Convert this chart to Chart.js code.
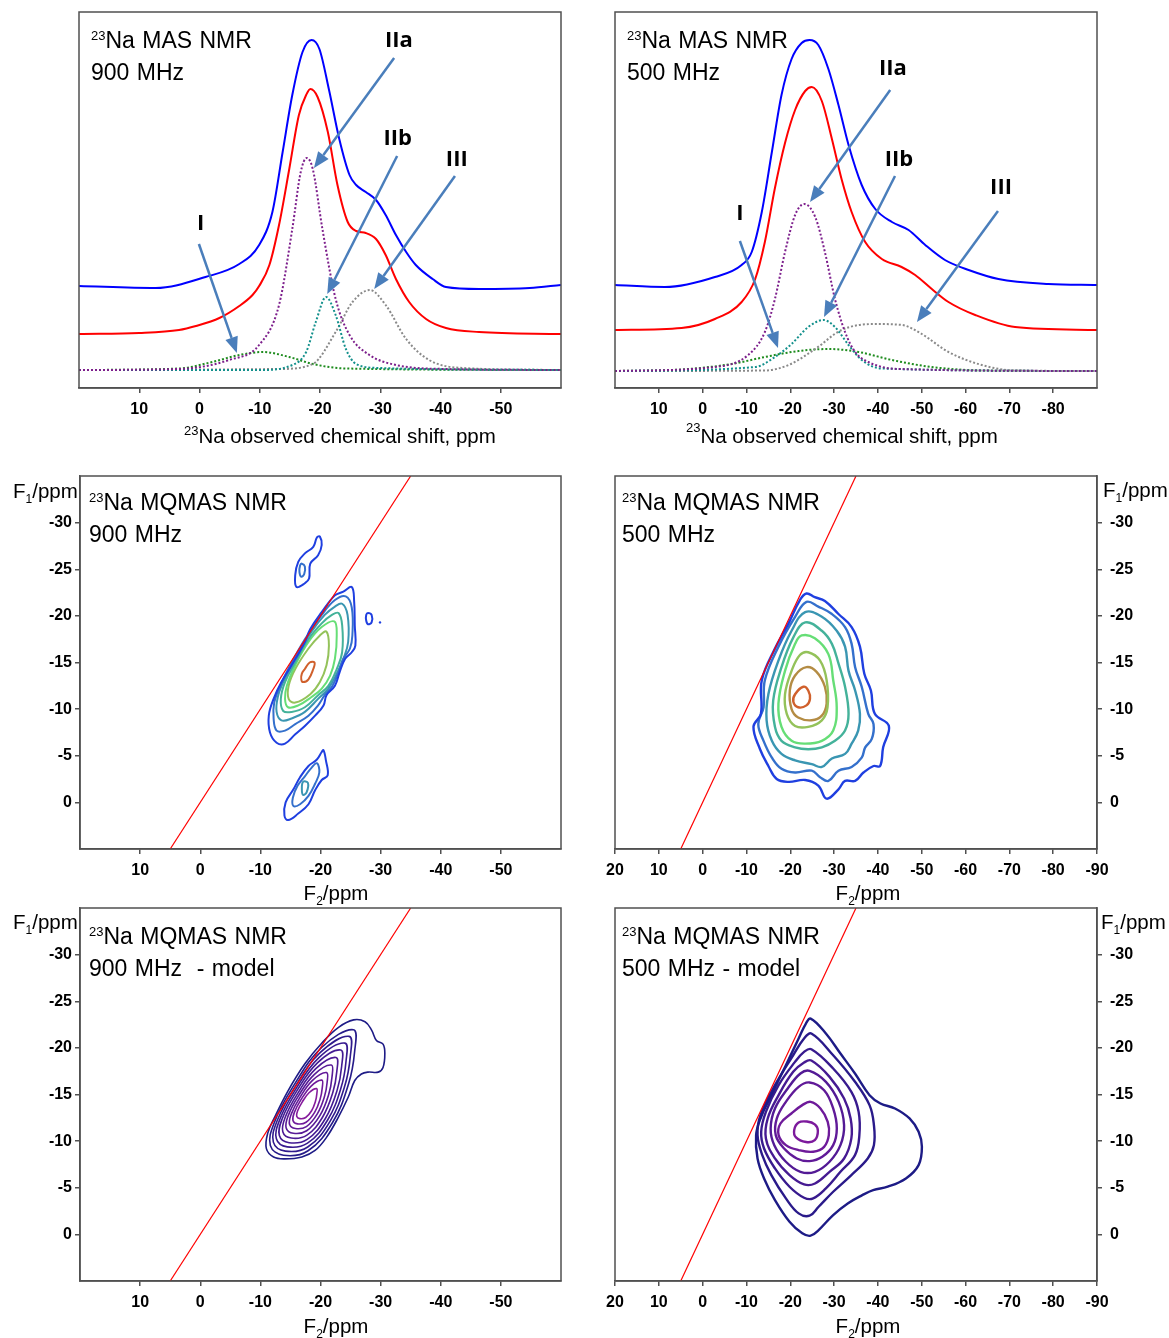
<!DOCTYPE html>
<html>
<head>
<meta charset="utf-8">
<script src="https://cdn.jsdelivr.net/npm/chart.js@4.4.1/dist/chart.umd.min.js"></script>
<style>
  body { margin: 0; background: #fff; width: 1169px; height: 1338px; position: relative; overflow: hidden;
         font-family: "Liberation Sans", Arial, sans-serif; }
  canvas { position: absolute; }
  .txt { position: absolute; color: #000; white-space: nowrap; z-index: 2; }
  .ttl { font-size: 23px; line-height: 29px; word-spacing: 1px; }
  .ax { font-size: 20.5px; line-height: 20px; }
  .sup { font-size: 13px; position: relative; top: -8px; }
  .sub { font-size: 12px; position: relative; top: 5px; }
</style>
</head>
<body>
<canvas id="mas900" width="585" height="455" style="left:0;top:0"></canvas>
<canvas id="mas500" width="584" height="455" style="left:585px;top:0"></canvas>
<canvas id="mq900" width="585" height="450" style="left:0;top:460px"></canvas>
<canvas id="mq500" width="584" height="450" style="left:585px;top:460px"></canvas>
<canvas id="model900" width="585" height="443" style="left:0;top:895px"></canvas>
<canvas id="model500" width="584" height="443" style="left:585px;top:895px"></canvas>

<!-- panel titles -->
<div class="txt ttl" style="left:91px;top:26px"><span class="sup">23</span>Na MAS NMR<br>900 MHz</div>
<div class="txt ttl" style="left:627px;top:26px"><span class="sup">23</span>Na MAS NMR<br>500 MHz</div>
<div class="txt ttl" style="left:89px;top:488px"><span class="sup">23</span>Na MQMAS NMR<br>900 MHz</div>
<div class="txt ttl" style="left:622px;top:488px"><span class="sup">23</span>Na MQMAS NMR<br>500 MHz</div>
<div class="txt ttl" style="left:89px;top:922px"><span class="sup">23</span>Na MQMAS NMR<br>900 MHz&nbsp; - model</div>
<div class="txt ttl" style="left:622px;top:922px"><span class="sup">23</span>Na MQMAS NMR<br>500 MHz - model</div>

<!-- axis titles -->
<div class="txt ax" style="left:184px;top:426px"><span class="sup">23</span>Na observed chemical shift, ppm</div>
<div class="txt ax" style="left:686px;top:426px"><span class="sup" style="top:-11px">23</span>Na observed chemical shift, ppm</div>
<div class="txt ax" style="left:236px;width:200px;text-align:center;top:883px">F<span class="sub">2</span>/ppm</div>
<div class="txt ax" style="left:768px;width:200px;text-align:center;top:883px">F<span class="sub">2</span>/ppm</div>
<div class="txt ax" style="left:236px;width:200px;text-align:center;top:1316px">F<span class="sub">2</span>/ppm</div>
<div class="txt ax" style="left:768px;width:200px;text-align:center;top:1316px">F<span class="sub">2</span>/ppm</div>
<div class="txt ax" style="left:13px;top:481px">F<span class="sub">1</span>/ppm</div>
<div class="txt ax" style="left:1103px;top:480px">F<span class="sub">1</span>/ppm</div>
<div class="txt ax" style="left:13px;top:912px">F<span class="sub">1</span>/ppm</div>
<div class="txt ax" style="left:1101px;top:912px">F<span class="sub">1</span>/ppm</div>

<script>
// ---------- tick labels ----------
const ticks900 = [10, 0, -10, -20, -30, -40, -50];
const ticks500Top = [10, 0, -10, -20, -30, -40, -50, -60, -70, -80];
const ticks500 = [20, 10, 0, -10, -20, -30, -40, -50, -60, -70, -80, -90];
const ticksF1 = [-30, -25, -20, -15, -10, -5, 0];

// ---------- 1D MAS spectra, 900 MHz (ppm / intensity a.u.) ----------
const mas900BluePpm = [20, 7.3, -1.0, -6.6, -9.9, -12.1, -13.8, -15.4, -17.1, -18.6, -19.9, -21.5, -23.2, -24.9, -26.0, -27.6, -29.3, -30.9, -32.6, -34.3, -35.9, -38.7, -40.9, -46.4, -54.8, -60];
const mas900BlueInt = [102, 100, 111, 124, 143, 176, 236, 293, 336, 348, 339, 298, 249, 213, 203, 196, 188, 173, 153, 136, 123, 109, 101, 99, 100, 103];
const mas900RedPpm = [20, 10, 3.4, 0.6, -3.3, -6.6, -8.8, -9.9, -11.6, -13.2, -14.9, -16.5, -17.7, -18.4, -19.6, -21.3, -22.9, -24.6, -26.0, -27.6, -29.3, -30.9, -32.6, -34.8, -37.6, -40.9, -46.4, -60];
const mas900RedInt = [54, 55, 58, 62, 70, 82, 93, 102, 123, 163, 219, 273, 293, 299, 291, 256, 203, 166, 157, 155, 149, 133, 109, 86, 69, 60, 56, 54];
const mas900IIaPpm = [20, 3.4, -4.9, -9.9, -13.2, -15.4, -16.8, -17.8, -18.8, -20.4, -22.6, -24.9, -28.2, -32.6, -40.9, -60];
const mas900IIaInt = [18, 19, 28, 43, 83, 159, 216, 230, 219, 159, 89, 53, 33, 23, 19, 18];
const mas900IIbPpm = [20, -10, -15.4, -17.7, -19.3, -21.0, -22.6, -24.3, -26.0, -29.8, -60];
const mas900IIbInt = [18, 18, 23, 36, 66, 91, 73, 39, 24, 20, 18];
const mas900IIIPpm = [20, -13.2, -18.8, -22.6, -25.4, -28.3, -30.9, -34.3, -38.1, -43.7, -60];
const mas900IIIInt = [18, 19, 24, 56, 86, 98, 83, 49, 28, 20, 18];
const mas900IPpm = [20, 3.4, -2.1, -6.6, -10.5, -14.9, -18.8, -24.3, -60];
const mas900IInt = [18, 19.5, 26, 33, 36, 31, 24, 19.5, 18];

// ---------- 1D MAS spectra, 500 MHz ----------
const mas500BluePpm = [20, 8.6, -2.8, -8.9, -11.2, -13.5, -15.8, -18.0, -20.3, -22.6, -24.4, -26.4, -28.7, -31.0, -33.3, -36.3, -39.4, -43.2, -47.0, -50.8, -55.3, -60.7, -67.5, -78.9, -90];
const mas500BlueInt = [103, 101, 111, 123, 136, 176, 236, 293, 329, 345, 348, 343, 319, 283, 243, 203, 179, 166, 158, 143, 128, 118, 109, 104, 103];
const mas500RedPpm = [20, 4.8, -2.8, -8.9, -12.0, -14.2, -16.5, -18.8, -21.1, -23.4, -24.9, -27.2, -29.5, -31.7, -34.0, -37.1, -40.9, -45.4, -48.5, -52.3, -56.1, -62.2, -71.3, -90];
const mas500RedInt = [58, 60, 69, 86, 109, 146, 200, 245, 278, 297, 301, 287, 249, 209, 176, 146, 129, 121, 113, 99, 86, 73, 61, 58];
const mas500IIaPpm = [20, -2.8, -10.4, -14.2, -16.5, -18.8, -21.1, -23.2, -25.7, -27.9, -30.2, -32.5, -34.8, -37.8, -44.7, -90];
const mas500IIaInt = [17, 21, 33, 56, 89, 136, 173, 184, 171, 136, 89, 56, 36, 26, 19, 17];
const mas500IIbPpm = [20, -12, -16.5, -20.3, -24.1, -27.6, -30.2, -33.3, -36.3, -40.9, -90];
const mas500IIbInt = [17, 21, 31, 44, 61, 68, 61, 43, 28, 19.5, 17];
const mas500IIIPpm = [20, -14.2, -19.6, -25.7, -31.7, -39.4, -45.5, -50.0, -56.1, -63.7, -71.3, -90];
const mas500IIIInt = [17, 17.5, 23, 39, 58, 64, 63, 54, 36, 23, 17.5, 17];
const mas500IPpm = [20, 4.8, -6.6, -14.2, -21.9, -28.7, -35.6, -43.2, -52.3, -63.7, -90];
const mas500IInt = [17, 18.5, 24, 31, 37, 39, 36, 28, 21, 17.5, 17];

// arrow annotations (from -> to, label anchor), in ppm / intensity
const arrows900 = [
  { label: 'IIa', from: [-32.3, 330], to: [-19.0, 220], at: [-33.1, 347] },
  { label: 'IIb', from: [-32.8, 232], to: [-21.2, 94], at: [-32.9, 249] },
  { label: 'III', from: [-42.4, 212], to: [-29.0, 99], at: [-42.7, 228] },
  { label: 'I', from: [0.1, 144], to: [-6.2, 35], at: [-0.2, 164] }
];
const arrows500 = [
  { label: 'IIa', from: [-42.8, 298], to: [-24.5, 186], at: [-43.4, 319] },
  { label: 'IIb', from: [-43.9, 212], to: [-27.7, 71], at: [-44.8, 228] },
  { label: 'III', from: [-67.4, 177], to: [-48.9, 66], at: [-68.1, 200] },
  { label: 'I', from: [-8.5, 147], to: [-17.2, 40], at: [-8.5, 174] }
];

// F1 = F2 diagonal
const diagonal = [[5, 5], [-35, -35]];

// ---------- MQMAS 900 MHz contours [F2, F1] (outer -> inner) ----------
const mq900c1 = [[-25.2,-23.1],[-25.6,-21.5],[-25.7,-19.0],[-25.8,-16.8],[-25.2,-16.1],[-24.1,-15.4],[-23.2,-14.0],[-22.4,-12.5],[-21.0,-11.5],[-20.5,-10.4],[-19.1,-9.3],[-17.4,-8.2],[-15.8,-7.3],[-14.1,-6.3],[-12.7,-6.4],[-11.6,-7.5],[-11.4,-9.3],[-12.2,-11.1],[-13.5,-12.9],[-15.2,-14.7],[-17.4,-17.2],[-18.3,-18.6],[-20.2,-20.4],[-22.4,-22.2],[-23.8,-22.6]];
const mq900c2 = [[-24.2,-22.1],[-25.2,-20.9],[-25.3,-17.9],[-24.9,-16.5],[-23.8,-15.4],[-23.0,-14.0],[-22.0,-12.5],[-20.7,-11.5],[-19.6,-10.4],[-18.0,-9.3],[-15.8,-8.4],[-14.1,-7.7],[-12.7,-7.7],[-12.2,-9.0],[-12.3,-10.7],[-13.3,-12.5],[-15.2,-15.0],[-17.4,-17.5],[-20.2,-20.1],[-22.4,-21.7]];
const mq900c3 = [[-23.6,-21.3],[-24.5,-20.1],[-24.6,-17.2],[-23.8,-15.4],[-22.7,-13.8],[-21.3,-12.2],[-19.6,-11.1],[-17.4,-9.7],[-15.2,-9.0],[-13.5,-8.8],[-12.7,-9.7],[-12.9,-11.3],[-13.8,-12.9],[-15.8,-15.4],[-18.5,-18.3],[-20.7,-20.1],[-22.4,-21.0]];
const mq900c4 = [[-23.0,-20.3],[-23.6,-19.0],[-23.6,-16.1],[-22.7,-14.3],[-21.3,-12.5],[-19.6,-11.5],[-17.4,-10.2],[-15.2,-9.7],[-13.8,-9.8],[-13.4,-11.1],[-14.1,-12.9],[-15.8,-15.0],[-18.0,-17.5],[-20.2,-19.2],[-21.9,-20.1]];
const mq900c5 = [[-22.3,-19.4],[-22.7,-17.9],[-22.4,-15.4],[-21.6,-13.6],[-20.2,-12.2],[-18.5,-11.3],[-16.3,-10.4],[-14.6,-10.2],[-14.1,-11.1],[-14.4,-12.5],[-15.8,-14.7],[-18.0,-17.2],[-20.2,-18.8]];
const mq900c6 = [[-21.0,-18.3],[-21.4,-16.8],[-21.0,-14.7],[-19.9,-12.9],[-18.3,-11.6],[-15.8,-10.7],[-14.7,-11.1],[-14.7,-12.5],[-15.8,-14.3],[-18.0,-16.5],[-19.9,-17.9]];
const mq900c7 = [[-17.4,-14.3],[-18.2,-15.0],[-19.0,-15.0],[-18.8,-14.3],[-18.0,-13.2],[-17.1,-12.9],[-16.8,-13.2],[-16.9,-13.8]];
const mq900Top1 = [[-19.9,-28.5],[-20.2,-27.6],[-19.6,-26.5],[-18.3,-25.6],[-18.1,-24.0],[-17.4,-23.5],[-16.0,-23.1],[-15.8,-24.4],[-16.3,-25.8],[-17.4,-26.7],[-18.8,-27.4],[-19.4,-28.4]];
const mq900Top2 = [[-16.9,-25.6],[-17.4,-25.3],[-17.3,-24.5],[-16.8,-24.2],[-16.5,-24.7],[-16.6,-25.4]];
const mq900Low1 = [[-20.5,-5.6],[-20.9,-4.5],[-21.2,-2.9],[-20.2,-2.4],[-19.1,-1.3],[-18.0,0.2],[-16.3,1.2],[-14.6,1.9],[-14.0,1.4],[-14.2,0.0],[-15.5,-1.4],[-16.6,-2.7],[-18.0,-3.9],[-19.4,-4.6],[-20.2,-5.4]];
const mq900Low2 = [[-19.4,-4.2],[-19.8,-3.2],[-19.1,-2.0],[-18.0,-0.7],[-16.6,0.2],[-15.5,0.4],[-15.4,-0.5],[-16.2,-1.8],[-17.4,-2.8],[-18.5,-3.7]];
const mq900Low3 = [[-17.1,-2.2],[-17.9,-2.1],[-17.7,-1.1],[-17.1,-0.8],[-16.9,-1.4]];
const mq900Side = [[-27.9,-20.3],[-28.5,-20.1],[-28.5,-19.3],[-27.9,-19.1],[-27.6,-19.5],[-27.6,-20.1]];
const mq900Dot = [[-29.9,-19.3]];

// ---------- MQMAS 500 MHz contours ----------
const mq500c1 = [[-23.7,-22.4],[-25.6,-22.0],[-27.9,-21.6],[-31.0,-20.2],[-34.0,-18.8],[-35.9,-16.7],[-36.9,-13.8],[-38.4,-12.0],[-39.3,-9.5],[-42.5,-8.2],[-41.2,-5.9],[-40.5,-3.9],[-39.0,-3.9],[-36.7,-3.2],[-34.8,-2.3],[-32.5,-2.3],[-31.0,-1.4],[-28.3,-0.4],[-26.4,-1.8],[-23.4,-2.4],[-19.6,-2.2],[-16.9,-2.5],[-15.0,-3.9],[-13.1,-5.7],[-11.6,-8.1],[-13.3,-9.5],[-13.5,-13.1],[-16.5,-16.5],[-19.6,-19.2],[-22.2,-21.7]];
const mq500c2 = [[-23.7,-21.5],[-26.4,-21.0],[-29.5,-20.2],[-32.5,-18.8],[-34.0,-17.0],[-34.8,-14.5],[-36.3,-12.4],[-37.8,-9.5],[-39.0,-8.4],[-38.6,-6.8],[-37.1,-5.9],[-36.3,-4.8],[-34.0,-3.8],[-31.0,-3.4],[-28.7,-2.3],[-26.8,-2.7],[-24.9,-3.4],[-21.1,-3.2],[-18.0,-3.6],[-15.8,-4.8],[-13.9,-6.6],[-12.7,-8.4],[-13.9,-10.2],[-14.2,-13.1],[-17.3,-16.7],[-21.1,-19.9]];
const mq500c3 = [[-23.4,-20.4],[-27.2,-19.9],[-30.6,-18.4],[-32.5,-16.7],[-33.3,-14.1],[-34.8,-12.0],[-35.9,-9.5],[-35.5,-7.7],[-34.0,-6.3],[-32.5,-5.2],[-29.5,-4.7],[-27.2,-3.8],[-24.9,-4.1],[-21.1,-4.5],[-18.0,-5.2],[-15.8,-6.6],[-14.6,-8.8],[-15.0,-11.6],[-17.3,-15.2],[-20.3,-18.4]];
const mq500c4 = [[-23.4,-19.3],[-27.2,-18.4],[-29.5,-17.0],[-31.0,-14.9],[-32.5,-12.4],[-33.3,-9.5],[-32.5,-7.7],[-30.2,-6.6],[-27.2,-5.9],[-24.1,-5.7],[-21.1,-5.9],[-18.0,-6.6],[-16.5,-8.1],[-16.1,-10.9],[-18.0,-14.5],[-20.7,-17.7]];
const mq500c5 = [[-22.6,-17.9],[-25.6,-17.6],[-28.7,-15.9],[-29.8,-13.1],[-30.6,-10.2],[-29.8,-7.7],[-27.2,-6.6],[-23.4,-6.3],[-20.3,-6.6],[-18.0,-8.1],[-17.3,-10.6],[-18.8,-14.1],[-21.1,-17.0]];
const mq500c6 = [[-24.1,-16.1],[-26.8,-15.2],[-28.3,-13.1],[-28.5,-10.2],[-27.2,-8.8],[-24.1,-8.1],[-21.1,-8.2],[-19.2,-9.5],[-18.8,-11.6],[-20.3,-14.1],[-22.2,-15.8]];
const mq500c7 = [[-23.7,-14.5],[-26.0,-14.0],[-27.9,-12.4],[-28.3,-10.6],[-27.2,-9.3],[-24.9,-8.8],[-21.8,-9.1],[-20.3,-10.0],[-19.9,-12.0],[-21.1,-13.6]];
const mq500c8 = [[-23.0,-12.4],[-24.1,-12.0],[-24.5,-11.1],[-23.7,-10.4],[-21.8,-10.2],[-20.7,-10.8],[-21.1,-11.6]];

// ---------- model 900 MHz contours ----------
const model900c1 = [[-25.5,-23.0],[-27.4,-22.8],[-28.5,-21.9],[-29.3,-20.8],[-30.4,-20.4],[-30.7,-19.4],[-30.4,-17.9],[-29.6,-17.4],[-27.9,-17.4],[-26.8,-17.2],[-25.7,-16.5],[-24.6,-14.7],[-23.0,-12.6],[-21.0,-10.4],[-19.1,-9.0],[-16.9,-8.3],[-14.1,-8.1],[-12.2,-8.3],[-11.0,-9.2],[-11.2,-10.8],[-12.4,-12.6],[-14.6,-15.4],[-17.4,-18.3],[-20.2,-20.5],[-23.0,-22.2]];
const model900c2 = [[-25.47,-21.95],[-25.67,-19.57],[-24.66,-16.12],[-22.01,-12.00],[-17.93,-8.97],[-13.85,-8.48],[-11.66,-9.53],[-12.32,-12.00],[-15.38,-15.79],[-20.23,-20.07]];
const model900c3 = [[-24.77,-21.23],[-24.95,-19.06],[-24.03,-15.90],[-21.61,-12.15],[-17.88,-9.37],[-14.16,-8.93],[-12.16,-9.89],[-12.77,-12.15],[-15.56,-15.61],[-19.98,-19.51]];
const model900c4 = [[-24.07,-20.51],[-24.24,-18.54],[-23.40,-15.69],[-21.21,-12.29],[-17.84,-9.78],[-14.47,-9.38],[-12.66,-10.25],[-13.21,-12.29],[-15.73,-15.42],[-19.74,-18.95]];
const model900c5 = [[-23.37,-19.78],[-23.52,-18.03],[-22.77,-15.47],[-20.81,-12.43],[-17.79,-10.19],[-14.78,-9.83],[-13.16,-10.60],[-13.65,-12.43],[-15.91,-15.23],[-19.49,-18.40]];
const model900c6 = [[-22.58,-18.97],[-22.71,-17.45],[-22.06,-15.23],[-20.36,-12.59],[-17.74,-10.65],[-15.13,-10.33],[-13.73,-11.01],[-14.15,-12.59],[-16.11,-15.02],[-19.22,-17.77]];
const model900c7 = [[-21.80,-18.16],[-21.91,-16.87],[-21.36,-14.99],[-19.92,-12.76],[-17.70,-11.11],[-15.48,-10.84],[-14.29,-11.41],[-14.65,-12.76],[-16.31,-14.82],[-18.95,-17.14]];
const model900c8 = [[-21.01,-17.35],[-21.10,-16.29],[-20.65,-14.75],[-19.47,-12.92],[-17.65,-11.56],[-15.83,-11.35],[-14.85,-11.81],[-15.15,-12.92],[-16.51,-14.61],[-18.67,-16.51]];
const model900c9 = [[-20.22,-16.54],[-20.29,-15.71],[-19.94,-14.51],[-19.02,-13.08],[-17.60,-12.02],[-16.18,-11.85],[-15.42,-12.22],[-15.65,-13.08],[-16.71,-14.40],[-18.40,-15.88]];
const model900c10 = [[-19.35,-15.63],[-19.39,-15.07],[-19.15,-14.24],[-18.52,-13.26],[-17.54,-12.53],[-16.57,-12.41],[-16.04,-12.66],[-16.20,-13.26],[-16.93,-14.16],[-18.09,-15.19]];

// ---------- model 500 MHz contours ----------
const model500c1 = [[-24.65,-23.14],[-28.13,-21.54],[-31.45,-19.39],[-34.77,-17.25],[-38.09,-14.93],[-40.58,-14.04],[-43.90,-13.50],[-47.22,-12.43],[-49.29,-11.0],[-50.04,-9.39],[-49.29,-7.43],[-46.39,-6.0],[-42.24,-5.11],[-38.92,-4.75],[-36.43,-4.21],[-33.11,-3.32],[-29.79,-2.07],[-26.47,-0.46],[-24.65,0.14],[-22.74,-0.11],[-19.83,-1.36],[-16.51,-3.68],[-14.02,-6.0],[-12.53,-8.14],[-12.20,-10.64],[-13.20,-12.43],[-15.68,-14.93],[-19.00,-18.14],[-21.91,-21.0],[-23.57,-22.61]];
const model500c2 = [[-24.81,-21.54],[-29.79,-19.21],[-34.77,-16.36],[-38.09,-13.86],[-39.09,-11.71],[-39.09,-9.57],[-37.68,-8.14],[-33.94,-6.36],[-29.79,-4.57],[-26.47,-2.96],[-24.40,-2.0],[-21.91,-2.25],[-19.0,-3.86],[-15.68,-6.36],[-13.61,-8.5],[-12.53,-10.64],[-13.20,-12.79],[-16.51,-16.0],[-20.66,-19.21],[-23.15,-21.0]];
const model500c3 = [[-24.81,-19.86],[-29.79,-17.79],[-33.94,-15.29],[-35.60,-13.14],[-35.77,-10.64],[-34.77,-8.5],[-31.45,-6.71],[-28.13,-4.93],[-25.23,-3.86],[-23.15,-3.93],[-19.83,-5.11],[-16.51,-7.07],[-14.02,-9.21],[-13.36,-11.0],[-14.44,-13.14],[-17.34,-16.0],[-21.08,-18.5],[-23.15,-19.57]];
const model500c4 = [[-24.81,-18.64],[-28.96,-16.89],[-32.28,-14.57],[-33.77,-12.43],[-33.94,-10.29],[-32.28,-8.14],[-28.96,-6.71],[-25.64,-5.46],[-23.15,-5.36],[-19.83,-6.36],[-16.51,-8.14],[-14.44,-10.29],[-14.85,-12.43],[-17.34,-14.93],[-20.66,-17.43],[-23.15,-18.43]];
const model500c5 = [[-24.40,-17.54],[-28.13,-16.36],[-31.04,-14.21],[-32.28,-11.71],[-31.45,-9.57],[-28.96,-7.79],[-25.64,-6.71],[-22.32,-6.71],[-19.0,-7.79],[-16.35,-9.57],[-15.52,-11.36],[-16.51,-13.5],[-19.42,-15.64],[-22.32,-17.25]];
const model500c6 = [[-24.40,-16.29],[-27.72,-15.46],[-29.79,-13.5],[-30.62,-11.36],[-29.79,-9.57],[-27.30,-8.32],[-24.40,-7.86],[-21.49,-8.14],[-18.59,-9.21],[-16.68,-10.64],[-16.93,-12.43],[-19.0,-14.21],[-21.91,-15.82]];
const model500c7 = [[-24.65,-14.21],[-26.89,-13.5],[-28.55,-12.07],[-28.80,-10.64],[-27.72,-9.39],[-25.23,-8.86],[-21.91,-9.04],[-19.0,-9.57],[-17.34,-10.64],[-17.76,-11.89],[-20.25,-12.96],[-22.74,-13.86]];
const model500c8 = [[-26.3,-11.1],[-25.6,-10.1],[-23.6,-9.9],[-21.3,-10.4],[-20.9,-11.2],[-21.9,-12.0],[-23.8,-12.1],[-25.6,-11.8]];

// ---------- helpers ----------
const xy = (xs, ys) => xs.map((x, i) => ({ x, y: ys[i] }));
const toPts = (arr) => arr.map(([x, y]) => ({ x, y }));

function spec(xs, ys, color, dotted) {
  return {
    data: xy(xs, ys), borderColor: color, borderWidth: 2, borderDash: dotted ? [2, 2] : [],
    showLine: true, pointRadius: 0, cubicInterpolationMode: 'monotone', fill: false
  };
}

// closed contour: wrap three points so the join is smooth, hide the duplicated ends
function contour(pts, color, width) {
  const n = pts.length;
  return {
    data: toPts(pts.concat([pts[0], pts[1], pts[2]])),
    borderColor: color, borderWidth: width, showLine: true, pointRadius: 0, tension: 0.4, fill: false,
    segment: { borderColor: c => (c.p0DataIndex === 0 || c.p0DataIndex === n + 1) ? 'rgba(0,0,0,0)' : undefined }
  };
}

function diag() {
  return { data: toPts(diagonal), borderColor: '#ff0000', borderWidth: 1.2, showLine: true, pointRadius: 0 };
}

const frame = {
  id: 'frame',
  afterDraw(chart) {
    const { ctx, chartArea: a } = chart;
    ctx.save();
    ctx.strokeStyle = '#505050';
    ctx.lineWidth = 1.5;
    ctx.strokeRect(a.left, a.top, a.right - a.left, a.bottom - a.top);
    ctx.restore();
  }
};

function arrows(items) {
  return {
    id: 'arrows',
    afterDatasetsDraw(chart) {
      const { ctx, scales: { x, y } } = chart;
      ctx.save();
      items.forEach(a => {
        const x0 = x.getPixelForValue(a.from[0]), y0 = y.getPixelForValue(a.from[1]);
        const x1 = x.getPixelForValue(a.to[0]), y1 = y.getPixelForValue(a.to[1]);
        const ang = Math.atan2(y1 - y0, x1 - x0);
        const hl = 16, hw = 6.5;
        const bx = x1 - hl * Math.cos(ang), by = y1 - hl * Math.sin(ang);
        ctx.strokeStyle = '#4a7ebb';
        ctx.fillStyle = '#4a7ebb';
        ctx.lineWidth = 2.5;
        ctx.beginPath(); ctx.moveTo(x0, y0); ctx.lineTo(bx, by); ctx.stroke();
        ctx.beginPath();
        ctx.moveTo(x1, y1);
        ctx.lineTo(bx + hw * Math.sin(ang), by - hw * Math.cos(ang));
        ctx.lineTo(bx - hw * Math.sin(ang), by + hw * Math.cos(ang));
        ctx.closePath(); ctx.fill();
        ctx.fillStyle = '#000';
        ctx.font = 'bold 22px "Open Sans", sans-serif';
        ctx.textAlign = 'center';
        ctx.textBaseline = 'middle';
        ctx.fillText(a.label, x.getPixelForValue(a.at[0]), y.getPixelForValue(a.at[1]));
      });
      ctx.restore();
    }
  };
}

const tickFont = { family: '"Liberation Sans", Arial, sans-serif', size: 16, weight: 'bold' };
const axisGrid = { display: true, drawOnChartArea: false, drawTicks: true, tickLength: 5, color: '#505050', lineWidth: 1.5 };

// keep the plot boxes where they are: no extra room for edge labels
function noEdgePadding(s) {
  s.paddingTop = 0; s.paddingBottom = 0; s.paddingLeft = 0; s.paddingRight = 0;
}

function makeChart(id, datasets, cfg) {
  const scales = {
    x: {
      type: 'linear', min: cfg.xMin, max: 20, reverse: true,
      afterBuildTicks: s => { s.ticks = cfg.xTicks.map(v => ({ value: v })); },
      afterFit: s => { s.height = cfg.xH; noEdgePadding(s); },
      ticks: { autoSkip: false, maxRotation: 0, padding: 7, color: '#000', font: tickFont, callback: v => String(v) },
      grid: axisGrid, border: { display: true, color: '#505050', width: 1.5 }
    }
  };
  if (cfg.f1) {
    scales.y = {
      type: 'linear', min: -35, max: 5, reverse: true, position: cfg.yPos,
      afterBuildTicks: s => { s.ticks = ticksF1.map(v => ({ value: v })); },
      afterFit: s => { s.width = cfg.yW; noEdgePadding(s); },
      ticks: { autoSkip: false, padding: cfg.yPos === 'left' ? 3 : 8, color: '#000', font: tickFont, callback: v => String(v) },
      grid: axisGrid, border: { display: true, color: '#505050', width: 1.5 }
    };
  } else {
    scales.y = { type: 'linear', min: 0, max: 376, display: false };
  }
  return new Chart(document.getElementById(id), {
    type: 'scatter',
    data: { datasets },
    options: {
      responsive: false, animation: false, devicePixelRatio: 1,
      layout: { padding: cfg.pad },
      plugins: { legend: { display: false }, tooltip: { enabled: false } },
      scales
    },
    plugins: [frame, arrows(cfg.arrows || [])]
  });
}

// ---------- colours ----------
const dotPurple = '#7d1f8c', dotTeal = '#13908c', dotGrey = '#8a8a8a', dotGreen = '#1e8c1e';
const expColors = ['#1f3fe0', '#3470cc', '#3a96b2', '#44b29a', '#66de76', '#94c25a', '#b48c44', '#d0602c'];
const model900Colors = ['#1e1b86', '#261b89', '#2f1a8c', '#381a8f', '#421a92', '#4c1a94', '#571a96', '#621a98', '#701a9a', '#861b9c'];
const model500Colors = ['#1d1b86', '#2a1a8a', '#381a8e', '#461a92', '#531a95', '#601a98', '#6e1a9a', '#7c1a9c'];

// ---------- panels ----------
makeChart('mas900', [
  spec(mas900BluePpm, mas900BlueInt, '#0000ff', false),
  spec(mas900RedPpm, mas900RedInt, '#ff0000', false),
  spec(mas900IIaPpm, mas900IIaInt, dotPurple, true),
  spec(mas900IIbPpm, mas900IIbInt, dotTeal, true),
  spec(mas900IIIPpm, mas900IIIInt, dotGrey, true),
  spec(mas900IPpm, mas900IInt, dotGreen, true)
], { xMin: -60, xTicks: ticks900, xH: 67, pad: { left: 79, top: 12, right: 24, bottom: 0 }, arrows: arrows900 });

makeChart('mas500', [
  spec(mas500BluePpm, mas500BlueInt, '#0000ff', false),
  spec(mas500RedPpm, mas500RedInt, '#ff0000', false),
  spec(mas500IIaPpm, mas500IIaInt, dotPurple, true),
  spec(mas500IIbPpm, mas500IIbInt, dotTeal, true),
  spec(mas500IIIPpm, mas500IIIInt, dotGrey, true),
  spec(mas500IPpm, mas500IInt, dotGreen, true)
], { xMin: -90, xTicks: ticks500Top, xH: 67, pad: { left: 30, top: 12, right: 72, bottom: 0 }, arrows: arrows500 });

const mq900Colors = [expColors[0], expColors[1], expColors[2], expColors[3], expColors[4], expColors[5], expColors[7]];
const mq900Sets = [diag()];
[mq900c1, mq900c2, mq900c3, mq900c4, mq900c5, mq900c6, mq900c7].forEach((c, i) => {
  mq900Sets.push(contour(c, mq900Colors[i], 2));
});
mq900Sets.push(contour(mq900Top1, expColors[0], 2), contour(mq900Top2, expColors[1], 2));
mq900Sets.push(contour(mq900Low1, expColors[0], 2), contour(mq900Low2, expColors[1], 2), contour(mq900Low3, expColors[2], 2));
mq900Sets.push(contour(mq900Side, expColors[0], 2));
mq900Sets.push({ data: toPts(mq900Dot), pointRadius: 1.2, pointBackgroundColor: expColors[0], pointBorderWidth: 0 });
makeChart('mq900', mq900Sets, { xMin: -60, xTicks: ticks900, xH: 61, f1: true, yPos: 'left', yW: 80,
  pad: { left: 0, top: 16, right: 24, bottom: 0 } });

const mq500Sets = [diag()];
[mq500c1, mq500c2, mq500c3, mq500c4, mq500c5, mq500c6, mq500c7, mq500c8].forEach((c, i) => {
  mq500Sets.push(contour(c, expColors[i], 2.4));
});
makeChart('mq500', mq500Sets, { xMin: -90, xTicks: ticks500, xH: 61, f1: true, yPos: 'right', yW: 72,
  pad: { left: 30, top: 16, right: 0, bottom: 0 } });

const model900Sets = [diag()];
[model900c1, model900c2, model900c3, model900c4, model900c5, model900c6, model900c7, model900c8, model900c9, model900c10].forEach((c, i) => {
  model900Sets.push(contour(c, model900Colors[i], 1.6));
});
makeChart('model900', model900Sets, { xMin: -60, xTicks: ticks900, xH: 57, f1: true, yPos: 'left', yW: 80,
  pad: { left: 0, top: 13, right: 24, bottom: 0 } });

const model500Sets = [diag()];
[model500c1, model500c2, model500c3, model500c4, model500c5, model500c6, model500c7, model500c8].forEach((c, i) => {
  model500Sets.push(contour(c, model500Colors[i], 2.4));
});
makeChart('model500', model500Sets, { xMin: -90, xTicks: ticks500, xH: 57, f1: true, yPos: 'right', yW: 72,
  pad: { left: 30, top: 13, right: 0, bottom: 0 } });
</script>
</body>
</html>
